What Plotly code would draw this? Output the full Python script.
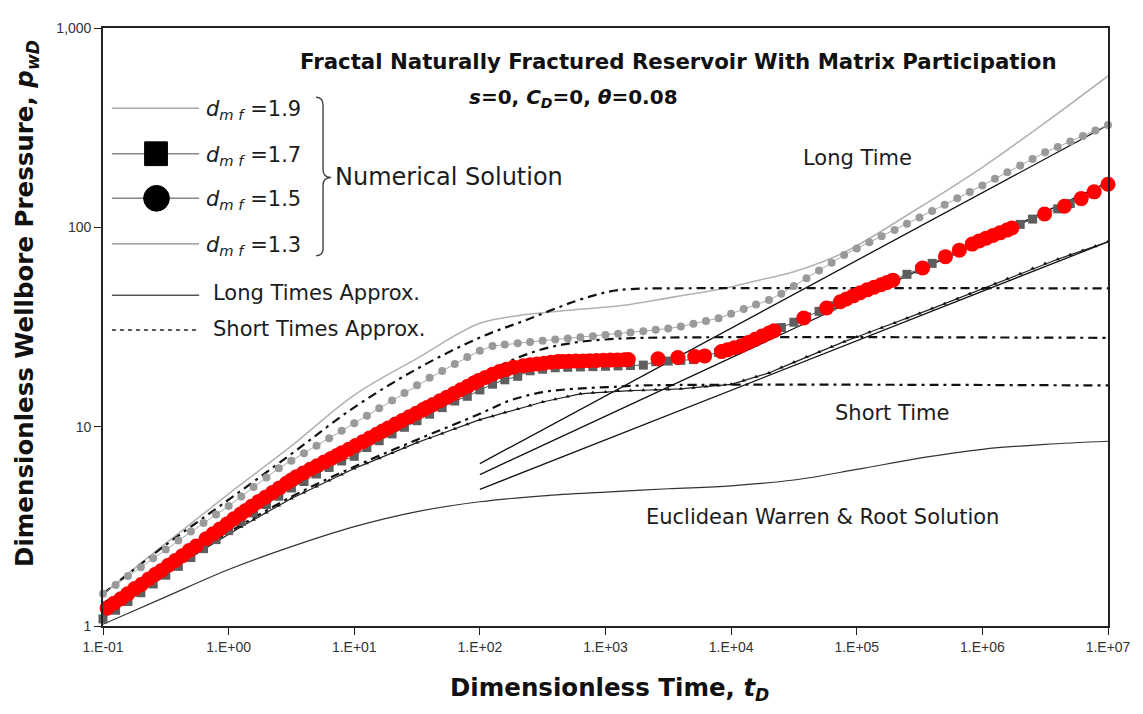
import plotly.graph_objects as go

# ---------------- data ----------------
t_grid = [0.1, 0.126, 0.158, 0.2, 0.251, 0.316, 0.398, 0.501, 0.631, 0.794,
          1, 1.26, 1.58, 2.0, 2.51, 3.16, 3.98, 5.01, 6.31, 7.94,
          10, 12.6, 15.8, 20, 25.1, 31.6, 39.8, 50.1, 63.1, 79.4,
          100, 126, 158, 200, 251, 316, 398, 501, 631, 794,
          1e3, 1.26e3, 1.58e3, 2e3, 2.51e3, 3.16e3, 3.98e3, 5.01e3, 6.31e3, 7.94e3,
          1e4, 1.26e4, 1.58e4, 2e4, 2.51e4, 3.16e4, 3.98e4, 5.01e4, 6.31e4, 7.94e4,
          1e5, 1.26e5, 1.58e5, 2e5, 2.51e5, 3.16e5, 3.98e5, 5.01e5, 6.31e5, 7.94e5,
          1e6, 1.26e6, 1.58e6, 2e6, 2.51e6, 3.16e6, 3.98e6, 5.01e6, 6.31e6, 7.94e6,
          1e7]

# grey dotted series
grey_dots_p = [1.450, 1.607, 1.781, 1.973, 2.187, 2.423, 2.685, 2.975, 3.291, 3.627,
               4.000, 4.462, 4.979, 5.556, 6.191, 6.753, 7.365, 8.032, 8.758, 9.545,
               10.40, 11.34, 12.37, 13.51, 14.75, 16.12, 17.58, 19.04, 20.62, 22.34,
               24.04, 25.39, 25.84, 26.22, 26.60, 26.99, 27.35, 27.71, 28.07, 28.44,
               28.81, 29.24, 29.68, 30.13, 30.59, 31.05, 31.78, 32.82, 33.89, 35.01,
               36.89, 38.88, 40.96, 43.16, 46.48, 50.83, 55.58, 60.77, 66.45, 72.66,
               78.29, 84.09, 90.29, 96.96, 104.1, 112.0, 120.6, 129.9, 139.8, 150.5,
               162.2, 175.1, 189.1, 204.0, 220.3, 237.8, 253.3, 269.7, 287.2, 306.0,
               326.0]

# dark grey squares (d_mf = 1.7)
squares_p = [1.085, 1.200, 1.327, 1.468, 1.625, 1.799, 1.991, 2.204, 2.443, 2.712,
             3.009, 3.341, 3.694, 4.067, 4.476, 4.925, 5.309, 5.789, 6.243, 6.730,
             7.100, 7.860, 8.500, 9.192, 9.927, 10.71, 11.55, 12.46, 13.45, 14.20,
             15.29, 16.33, 17.18, 17.89, 19.07, 19.41, 19.75, 19.85, 19.93, 20.01,
             20.10, 20.18, 20.27, 20.36, 21.17, 21.34, 21.52, 21.71, 22.68, 23.56,
             24.60, 25.79, 27.57, 29.50, 31.42, 33.42, 35.56, 37.89, 40.42, 43.18,
             46.13, 49.01, 51.73, 54.72, 58.11, 61.69, 65.93, 70.92, 75.95, 81.31,
             86.78, 91.76, 97.14, 103.4, 110.0, 117.0, 123.8, 131.6, 140.6, 151.9,
             164.4]

# black line with small markers (d_mf = 1.3)
dmf13_p = [1.150, 1.264, 1.391, 1.528, 1.679, 1.841, 2.016, 2.208, 2.418, 2.648,
           2.900, 3.147, 3.415, 3.707, 4.022, 4.365, 4.677, 5.012, 5.370, 5.754,
           6.166, 6.546, 6.950, 7.379, 7.834, 8.318, 8.770, 9.247, 9.750, 10.28,
           10.84, 11.29, 11.77, 12.26, 12.77, 13.30, 13.73, 14.17, 14.62, 14.78,
           14.94, 15.10, 15.17, 15.23, 15.30, 15.37, 15.49, 15.69, 15.89, 16.09,
           16.30, 17.03, 17.80, 18.60, 19.79, 21.04, 22.34, 23.71, 25.15, 26.69,
           28.18, 29.74, 31.39, 33.11, 34.95, 36.94, 39.11, 41.41, 43.85, 46.41,
           49.16, 52.12, 55.24, 58.56, 62.07, 65.80, 69.18, 72.75, 76.50, 80.45,
           84.62]

# red circles (d_mf = 1.5)
red_t = [0.1076, 0.1222, 0.1387, 0.157, 0.179, 0.203, 0.231, 0.262,
         0.292, 0.332, 0.377, 0.428, 0.486, 0.552,
         0.661, 0.752, 0.854, 0.969, 1.100, 1.249, 1.368,
         1.526, 1.733, 1.967, 2.235, 2.537, 2.882, 3.155,
         3.457, 3.924, 4.456, 5.06, 5.747, 6.525, 7.277,
         7.97, 9.05, 10.27, 11.67, 13.25, 15.05, 16.79,
         18.71, 21.25, 24.13, 27.41, 31.12, 35.34, 38.02,
         42.4, 48.1, 54.7, 62.1, 70.5, 80.1, 89.3,
         97.7, 111.0, 126.1, 143.1, 162.6, 184.6,
         221.4, 251.4, 285.5, 324.2, 368.3, 418.2, 458.0,
         510.6, 579.9, 658.5, 747.7, 849.1, 964.2, 1095, 1244, 1412, 1519,
         2619, 3766, 5129, 6152, 8379,
         9342, 10607, 12044, 13677, 15534, 17640, 20032, 21944,
         37830, 57480, 74120,
         82650, 93850, 106600, 121000, 137500, 156100, 174100, 194100,
         334500, 508200, 655500, 830100,
         942600, 1071000, 1216000, 1380000, 1568000, 1717000,
         3127000, 4497000, 6124000, 7755000, 10000000]
red_p = [1.23, 1.30, 1.37, 1.45, 1.54, 1.62, 1.72, 1.82,
         1.90, 2.02, 2.13, 2.25, 2.39, 2.52,
         2.74, 2.90, 3.07, 3.25, 3.45, 3.65, 3.80,
         3.99, 4.21, 4.43, 4.67, 4.93, 5.20, 5.40,
         5.60, 5.86, 6.11, 6.37, 6.64, 6.92, 7.17,
         7.39, 7.70, 8.04, 8.40, 8.77, 9.16, 9.50,
         9.86, 10.30, 10.74, 11.20, 11.68, 12.18, 12.47,
         12.93, 13.48, 14.06, 14.67, 15.31, 15.97, 16.56,
         17.04, 17.67, 18.33, 18.90, 19.36, 19.84,
         20.24, 20.43, 20.63, 20.83, 21.04, 21.21, 21.23,
         21.28, 21.33, 21.38, 21.43, 21.48, 21.53, 21.58, 21.63, 21.68, 21.70,
         21.90, 22.23, 22.50, 22.65, 23.80,
         24.29, 24.87, 25.47, 26.42, 27.42, 28.46, 29.53, 30.28,
         35.08, 39.36, 42.33,
         43.68, 45.31, 46.99, 48.56, 50.03, 51.55, 52.88, 54.33,
         62.60, 71.29, 76.81, 82.37,
         85.51, 88.23, 90.99, 93.84, 96.85, 99.26,
         116.7, 127.6, 139.4, 150.7, 164.4]

# light grey line (d_mf = 1.9)
dmf19_t = [0.1, 0.316, 1, 3.16, 10, 31.6, 100, 234, 575, 1350, 3550, 8300,
           1.6e4, 3.2e4, 8e4, 2.8e5, 1e6, 3.16e6, 1e7]
dmf19_p = [1.45, 2.6, 4.6, 8.0, 14.4, 22.0, 33.0, 36.5, 38.6, 40.5, 44.8, 49.0,
           54.0, 60.0, 75.0, 120.0, 200.0, 335.0, 575.0]

# Euclidean Warren & Root solution
wr_t = [0.1, 0.316, 1, 3.16, 10, 31.6, 100, 316, 1000, 3160, 1e4, 3.16e4,
        1e5, 3.16e5, 1e6, 3.16e6, 1e7]
wr_p = [1.02, 1.4, 1.92, 2.5, 3.15, 3.75, 4.2, 4.5, 4.7, 4.88, 5.05, 5.4,
        6.1, 6.95, 7.7, 8.15, 8.45]

# short time approximations
short1_t = [0.1, 0.316, 1, 3.16, 10, 31.6, 100, 234, 575, 1050, 1580, 3160, 1e7]
short1_p = [1.45, 2.55, 4.3, 7.3, 12.5, 19.5, 28.0, 34.3, 42.6, 47.5, 49.0, 49.4, 49.4]
short2_t = [0.1, 0.316, 1, 3.16, 10, 31.6, 100, 178, 316, 562, 1000, 2000, 1e7]
short2_p = [1.3, 2.05, 3.45, 5.6, 8.4, 12.3, 18.0, 21.5, 24.5, 26.4, 27.4, 27.9, 27.9]
short3_t = [0.1, 0.316, 1, 3.16, 10, 31.6, 100, 172, 316, 575, 1070, 2000, 1e7]
short3_p = [1.2, 1.9, 2.95, 4.45, 6.3, 8.6, 11.6, 13.5, 14.9, 15.5, 15.8, 16.1, 16.1]

# long time approximations (straight lines)
long_t = [100, 1e7]
long1_p = [6.53, 326.0]
long2_p = [5.75, 168.0]
long3_p = [4.85, 84.6]

x_tickvals = [0.1, 1, 10, 100, 1e3, 1e4, 1e5, 1e6, 1e7]
x_ticktext = ["1.E-01", "1.E+00", "1.E+01", "1.E+02", "1.E+03",
              "1.E+04", "1.E+05", "1.E+06", "1.E+07"]
y_tickvals = [1, 10, 100, 1000]
y_ticktext = ["1", "10", "100", "1,000"]

# ---------------- figure ----------------
# the page body has an 8 px margin, so the figure is 8 px smaller than the window
OFF = 8
FW, FH = 1143 - OFF, 714 - OFF
ML, MR, MT, MB = 95, 26, 14, 88
PW, PH = FW - ML - MR, FH - MT - MB


def P(px, py):
    """window pixel position -> paper coordinates"""
    return (px - OFF - ML) / PW, (FH - MB - (py - OFF)) / PH


fig = go.Figure()


def add_line(x, y, color, width, dash=None, shape="spline"):
    fig.add_trace(go.Scatter(x=x, y=y, mode="lines",
                             line=dict(color=color, width=width, dash=dash, shape=shape),
                             showlegend=False, hoverinfo="skip"))


add_line(dmf19_t, dmf19_p, "#b2b2b2", 1.6)
add_line(wr_t, wr_p, "#333333", 1.2)
for lp in (long1_p, long2_p, long3_p):
    add_line(long_t, lp, "#111111", 1.3, shape="linear")

fig.add_trace(go.Scatter(x=t_grid, y=dmf13_p, mode="lines+markers",
                         line=dict(color="#222222", width=1.2),
                         marker=dict(symbol="triangle-up", size=4, color="#111111"),
                         showlegend=False, hoverinfo="skip"))

for st, sp in ((short1_t, short1_p), (short2_t, short2_p), (short3_t, short3_p)):
    add_line(st, sp, "#111111", 2.2, dash="9px,5px,3px,5px")

fig.add_trace(go.Scatter(x=t_grid, y=grey_dots_p, mode="lines+markers",
                         line=dict(color="#a8a8a8", width=1),
                         marker=dict(symbol="circle", size=8, color="#9a9a9a"),
                         showlegend=False, hoverinfo="skip", cliponaxis=False))
fig.add_trace(go.Scatter(x=t_grid, y=squares_p, mode="lines+markers",
                         line=dict(color="#555555", width=1),
                         marker=dict(symbol="square", size=9, color="#5e5e5e"),
                         showlegend=False, hoverinfo="skip", cliponaxis=False))
fig.add_trace(go.Scatter(x=red_t, y=red_p, mode="markers",
                         marker=dict(symbol="circle", size=15, color="#ff0000"),
                         showlegend=False, hoverinfo="skip", cliponaxis=False))

axis_common = dict(type="log", showgrid=False, zeroline=False, showline=True,
                   linecolor="#222222", linewidth=1.6, mirror=True,
                   ticks="outside", ticklen=7, tickwidth=1.2, tickcolor="#222222",
                   tickfont=dict(family="Liberation Sans", size=14, color="#333333"))
fig.update_layout(
    width=FW, height=FH,
    margin=dict(l=ML, r=MR, t=MT, b=MB),
    paper_bgcolor="white", plot_bgcolor="white",
    showlegend=False,
    xaxis=dict(range=[-1, 7], tickvals=x_tickvals, ticktext=x_ticktext, **axis_common),
    yaxis=dict(range=[0, 3], tickvals=y_tickvals, ticktext=y_ticktext, **axis_common),
)

shapes = []
# legend lines
leg_rows = [(103, "#a8a8a8", None), (149, "#888888", None), (194, "#888888", None),
            (240, "#888888", None), (292, "#555555", None), (327, "#222222", "4px,4px")]
for py, col, dsh in leg_rows:
    x0, y0 = P(112, py)
    x1, _ = P(200, py)
    shapes.append(dict(type="line", xref="paper", yref="paper", x0=x0, y0=y0, x1=x1, y1=y0,
                       line=dict(color=col, width=1.4, dash=dsh)))
# legend square and circle
sx0, sy0 = P(145, 161)
sx1, sy1 = P(168, 137)
shapes.append(dict(type="rect", xref="paper", yref="paper", x0=sx0, y0=sy0, x1=sx1, y1=sy1,
                   fillcolor="black", line=dict(color="black", width=1)))
cx0, cy0 = P(144, 207)
cx1, cy1 = P(170, 181)
shapes.append(dict(type="circle", xref="paper", yref="paper", x0=cx0, y0=cy0, x1=cx1, y1=cy1,
                   fillcolor="black", line=dict(color="black", width=1)))
# brace
pts = {k: P(*v) for k, v in {
    "a": (318, 92), "b": (325, 92), "c": (325, 100), "d": (325, 165), "e": (325, 173),
    "f": (333, 173), "g": (325, 181), "h": (325, 245), "i": (325, 252), "j": (318, 252)}.items()}


def f(k):
    return f"{pts[k][0]:.5f},{pts[k][1]:.5f}"


brace = (f"M {f('a')} Q {f('b')} {f('c')} L {f('d')} Q {f('e')} {f('f')} "
         f"Q {f('e')} {f('g')} L {f('h')} Q {f('i')} {f('j')}")
shapes.append(dict(type="path", xref="paper", yref="paper", path=brace,
                   line=dict(color="#444444", width=1.4)))
fig.update_layout(shapes=shapes)

REG = "DejaVu Sans"
TXT = "#1c1c1c"
ann = []


def text(px, py, s, size, xanchor="left", angle=0, color=TXT, family=REG):
    x, y = P(px, py)
    ann.append(dict(x=x, y=y, xref="paper", yref="paper", text=s, showarrow=False,
                    xanchor=xanchor, yanchor="middle", textangle=angle,
                    font=dict(family=family, size=size, color=color)))


text(684, 56, "<b>Fractal Naturally Fractured Reservoir With Matrix Participation</b>", 21.3,
     xanchor="center", color="#111111")
text(470, 93, "<b><i>s</i>=0, <i>C<sub>D</sub></i>=0, <i>θ</i>=0.08</b>", 20, color="#111111")
for py, val in ((103, "1.9"), (149, "1.7"), (194, "1.5"), (240, "1.3")):
    text(205, py + 2, "<i>d</i><sub><i>m f</i></sub> =" + val, 21)
text(335, 172, "Numerical Solution", 24)
text(212, 290, "Long Times Approx.", 21)
text(212, 326, "Short Times Approx.", 21)
text(807, 153, "Long Time", 21)
text(840, 411, "Short Time", 21)
text(649, 516, "Euclidean Warren &amp; Root Solution", 21)
text(26, 300, "<b>Dimensionless Wellbore Pressure, <i>p<sub>wD</sub></i></b>", 24.5,
     xanchor="center", angle=-90, color="#111111")
text(614, 690, "<b>Dimensionless Time, <i>t<sub>D</sub></i></b>", 24.5,
     xanchor="center", color="#111111")
fig.update_layout(annotations=ann)

fig.write_html("out.html")
